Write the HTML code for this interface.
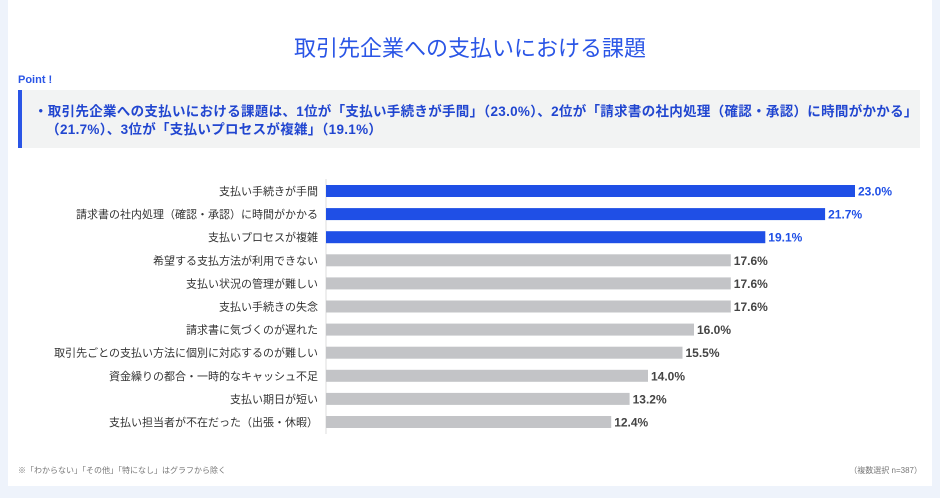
<!DOCTYPE html>
<html><head><meta charset="utf-8"><style>
body{margin:0;width:940px;height:498px;background:#eef3fb;font-family:"Liberation Sans","Noto Sans CJK JP",sans-serif;overflow:hidden;position:relative}
.card{position:absolute;left:8px;top:0;width:924px;height:486px;background:#fff}
.title{position:absolute;left:0;width:940px;top:31px;text-align:center;font-size:22px;color:#2a55e6}
.point{position:absolute;left:18px;top:74px;font-size:11px;font-weight:bold;color:#2a55e6}
.box{position:absolute;left:18px;top:90px;width:902px;height:58px;background:#f2f3f3;border-left:4px solid #2a55e6;box-sizing:border-box}
.box p{margin:0;position:absolute;left:12px;top:13px;font-size:13.5px;letter-spacing:0.3px;font-weight:bold;color:#2146d0;line-height:18px;white-space:nowrap}
.foot{position:absolute;top:465px;font-size:8px;color:#777}
svg{position:absolute;left:0;top:0}
</style></head><body>
<div class="card"></div>
<div class="title">取引先企業への支払いにおける課題</div>
<div class="point">Point !</div>
<div class="box"><p>・取引先企業への支払いにおける課題は、1位が「支払い手続きが手間」（23.0%）、2位が「請求書の社内処理（確認・承認）に時間がかかる」<br>&nbsp;&nbsp;&nbsp;（21.7%）、3位が「支払いプロセスが複雑」（19.1%）</p></div>
<svg id="chart" width="940" height="498"></svg>
<div class="foot" style="left:18px">※「わからない」「その他」「特になし」はグラフから除く</div>
<div class="foot" style="right:18px">（複数選択 n=387）</div>
<script>
const categories=["支払い手続きが手間","請求書の社内処理（確認・承認）に時間がかかる","支払いプロセスが複雑","希望する支払方法が利用できない","支払い状況の管理が難しい","支払い手続きの失念","請求書に気づくのが遅れた","取引先ごとの支払い方法に個別に対応するのが難しい","資金繰りの都合・一時的なキャッシュ不足","支払い期日が短い","支払い担当者が不在だった（出張・休暇）"];
const values=[23.0,21.7,19.1,17.6,17.6,17.6,16.0,15.5,14.0,13.2,12.4];
const labels=["23.0%","21.7%","19.1%","17.6%","17.6%","17.6%","16.0%","15.5%","14.0%","13.2%","12.4%"];
const svg=document.getElementById('chart');const NS='http://www.w3.org/2000/svg';
const x0=326,pxPer=23.0,y0=191,step=23.1,bh=12;
const xs=v=>x0+v*pxPer, ys=i=>y0+i*step;
function mk(t,a){const e=document.createElementNS(NS,t);for(const k in a)e.setAttribute(k,a[k]);svg.appendChild(e);return e;}
const ax=mk('line',{x1:x0,x2:x0,y1:ys(0)-12,y2:ys(values.length-1)+12,stroke:'#ddd','stroke-width':1});


values.forEach((v,i)=>{
 const top=i<3;
 const r=mk('rect',{x:x0,y:ys(i)-bh/2,width:xs(v)-x0,height:bh,fill:top?'#1f4fe6':'#c3c4c7'});
 
 
 const c=mk('text',{x:318,y:ys(i)+4,'text-anchor':'end','font-size':11,fill:'#333'});c.textContent=categories[i];
 
 
 const t=mk('text',{x:xs(v)+3,y:ys(i)+4.5,'font-size':12,'font-weight':'bold',fill:top?'#1f4fe6':'#444'});t.textContent=labels[i];
 
 
});
</script>
</body></html>
